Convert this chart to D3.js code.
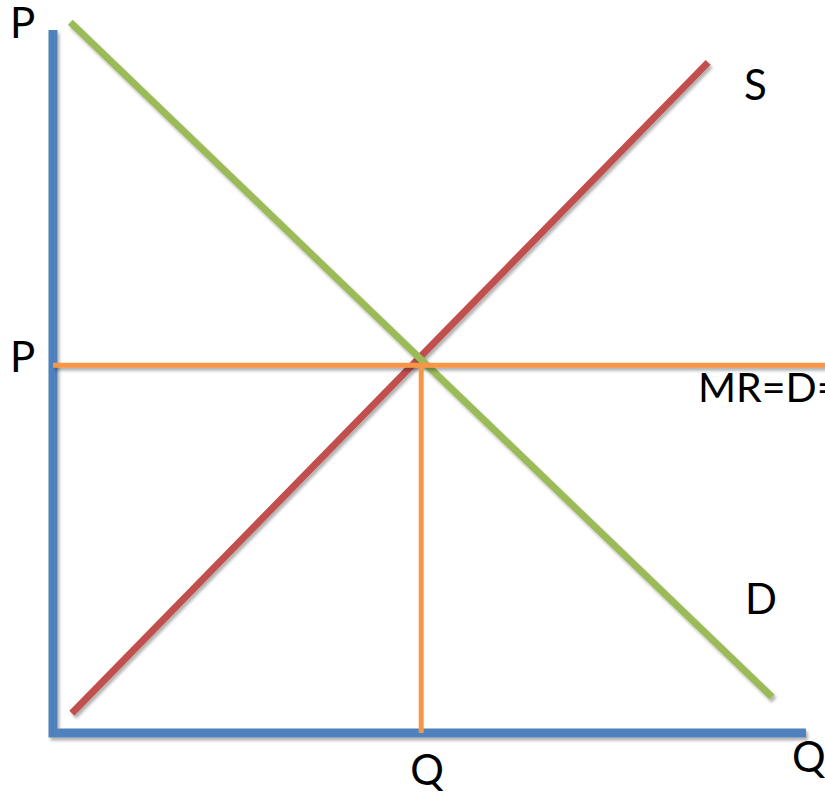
<!DOCTYPE html>
<html>
<head>
<meta charset="utf-8">
<script src="https://cdn.jsdelivr.net/npm/d3@7"></script>
<style>
  html, body { margin: 0; padding: 0; background: #fff; }
  svg { display: block; }
  text { font-family: Lato, "Open Sans", sans-serif; fill: #000; }
</style>
</head>
<body>
<div id="chart"></div>
<script>
// Curve endpoints in (quantity, price) units
const demand = [[0.23, 10.11], [9.55, 0.51]];
const supply = [[0.25, 0.28], [8.70, 9.54]];

// Equilibrium
const qEq = 4.89;
const pEq = 5.23;

// Axis labels
const axisLabels = ["P", "Q"];
const tickLabels = ["P", "Q"];
const curveLabels = ["S", "D", "MR=D="];

// Chart constants
const w = 825;
const h = 795;

const svg = d3.select("#chart").append("svg")
              .attr("width", w)
              .attr("height", h);

// soft drop shadow like the office drawing
// (user space region so flat horizontal/vertical lines are not clipped)
const defs = svg.append("defs");
const shadow = defs.append("filter")
                   .attr("id", "shadow")
                   .attr("filterUnits", "userSpaceOnUse")
                   .attr("x", 0).attr("y", 0)
                   .attr("width", w).attr("height", h);
shadow.append("feDropShadow")
      .attr("dx", 2)
      .attr("dy", 3)
      .attr("stdDeviation", 1.5)
      .attr("flood-color", "#000")
      .attr("flood-opacity", 0.3);

// scales
const x = d3.scaleLinear().domain([0, 10]).range([53, 806]);
const y = d3.scaleLinear().domain([0, 10]).range([733, 30]);

const line = d3.line().x(d => x(d[0])).y(d => y(d[1]));

// axes
svg.append("path")
   .attr("d", line([[0, 10], [0, 0], [10, 0]]))
   .attr("fill", "none")
   .attr("stroke", "#4f81bd")
   .attr("stroke-width", 9)
   .attr("stroke-linejoin", "miter")
   .attr("filter", "url(#shadow)");

// supply
svg.append("path")
   .attr("d", line(supply))
   .attr("fill", "none")
   .attr("stroke", "#c0504d")
   .attr("stroke-width", 7)
   .attr("filter", "url(#shadow)");

// demand
svg.append("path")
   .attr("d", line(demand))
   .attr("fill", "none")
   .attr("stroke", "#9bbb59")
   .attr("stroke-width", 7)
   .attr("filter", "url(#shadow)");

// MR = D line and the drop to Q
svg.append("path")
   .attr("d", line([[0, pEq], [x.invert(w + 5), pEq]]))
   .attr("fill", "none")
   .attr("stroke", "#f79646")
   .attr("stroke-width", 5)
   .attr("filter", "url(#shadow)");
svg.append("path")
   .attr("d", line([[qEq, pEq], [qEq, 0]]))
   .attr("fill", "none")
   .attr("stroke", "#f79646")
   .attr("stroke-width", 5);

// labels
const fs = "42px";
svg.append("text").text(axisLabels[0])
   .attr("x", 10).attr("y", 38).style("font-size", fs);
svg.append("text").text(axisLabels[1])
   .attr("x", 792).attr("y", 772).style("font-size", fs);
svg.append("text").text(tickLabels[0])
   .attr("x", 10).attr("y", y(pEq) + 7).style("font-size", fs);
svg.append("text").text(tickLabels[1])
   .attr("x", x(qEq) - 11).attr("y", 785).style("font-size", fs);
svg.append("text").text(curveLabels[0])
   .attr("x", 744).attr("y", 100).style("font-size", fs);
svg.append("text").text(curveLabels[1])
   .attr("x", 745).attr("y", 614).style("font-size", fs);
svg.append("text").text(curveLabels[2])
   .attr("x", 698).attr("y", 402).style("font-size", "41px");
</script>
</body>
</html>
